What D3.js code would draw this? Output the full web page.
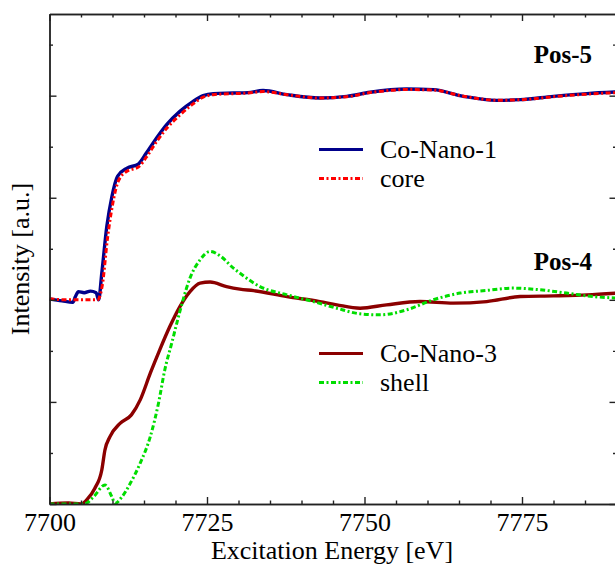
<!DOCTYPE html>
<html>
<head>
<meta charset="utf-8">
<script src="https://cdn.jsdelivr.net/npm/d3@7/dist/d3.min.js"></script>
<style>
  body { margin: 0; background: #fff; }
  text { font-family: "Liberation Serif", "Times New Roman", serif; fill: #000; }
</style>
</head>
<body>
<div id="chart"></div>
<script>
// Pos-5 : Co-Nano-1 measured vs core fit (offset by +2)
const nano1E = [7700, 7702, 7703.7, 7704.1, 7704.6, 7705.5, 7706.5, 7707.4, 7707.8, 7708.3, 7709.1, 7709.9, 7710.8, 7712.3, 7714.1, 7715.4, 7717.0, 7718.6, 7720.7, 7722.8, 7724.4, 7726.0, 7729.2, 7731.5, 7733.9, 7737.7, 7742.9, 7747.2, 7750.9, 7756.7, 7760.9, 7765.7, 7771.0, 7774.7, 7780.0, 7785.3, 7790];
const nano1V = [2.01, 1.99, 1.975, 2.03, 2.08, 2.07, 2.085, 2.07, 2.0, 2.26, 2.72, 3.01, 3.21, 3.29, 3.33, 3.44, 3.585, 3.716, 3.846, 3.944, 4.0, 4.02, 4.026, 4.03, 4.05, 4.01, 3.977, 3.993, 4.033, 4.065, 4.059, 3.993, 3.954, 3.961, 3.993, 4.02, 4.036];

const coreE = [7700, 7703, 7705, 7707.6, 7708.4, 7709.2, 7710.0, 7710.9, 7712.3, 7714.1, 7715.4, 7717.0, 7718.6, 7720.7, 7722.8, 7724.4, 7726.0, 7729.2, 7731.5, 7733.9, 7737.7, 7742.9, 7747.2, 7750.9, 7756.7, 7760.9, 7765.7, 7771.0, 7774.7, 7780.0, 7785.3, 7790];
const coreV = [2.01, 2.0, 2.0, 2.0, 2.15, 2.6, 2.93, 3.16, 3.26, 3.3, 3.4, 3.55, 3.68, 3.81, 3.92, 3.985, 4.01, 4.02, 4.025, 4.04, 4.01, 3.977, 3.99, 4.03, 4.06, 4.055, 3.995, 3.955, 3.96, 3.99, 4.015, 4.03];

// Pos-4 : Co-Nano-3 measured vs shell fit
const nano3E = [7700, 7703, 7705, 7705.9, 7707.2, 7708.3, 7708.8, 7709.6, 7711.2, 7713.0, 7714.4, 7716.0, 7717.5, 7719.1, 7720.7, 7722.3, 7723.9, 7725.5, 7728.1, 7730.2, 7732.4, 7737.7, 7742.9, 7745.6, 7749.3, 7753.5, 7758.8, 7764.1, 7769.4, 7774.7, 7780.0, 7785.3, 7790];
const nano3V = [0.0, 0.01, 0.0, 0.04, 0.154, 0.333, 0.529, 0.66, 0.79, 0.873, 1.02, 1.281, 1.51, 1.738, 1.934, 2.081, 2.164, 2.174, 2.13, 2.105, 2.09, 2.032, 1.983, 1.951, 1.918, 1.951, 1.983, 1.968, 1.983, 2.032, 2.039, 2.049, 2.066];

const shellE = [7700, 7705.5, 7707.0, 7708.8, 7709.9, 7710.4, 7711.5, 7712.8, 7714.4, 7716.0, 7717.3, 7718.3, 7719.4, 7720.2, 7721.2, 7722.3, 7723.9, 7725.5, 7727.1, 7729.2, 7730.2, 7733.4, 7737.7, 7741.9, 7745.6, 7749.3, 7752.5, 7756.7, 7760.9, 7765.2, 7769.4, 7773.6, 7777.9, 7782.1, 7786.3, 7790];
const shellV = [0, 0, 0.07, 0.186, 0.07, 0.007, 0.07, 0.2, 0.4, 0.66, 0.987, 1.314, 1.575, 1.77, 2.0, 2.213, 2.392, 2.474, 2.43, 2.31, 2.262, 2.13, 2.049, 1.983, 1.918, 1.863, 1.853, 1.902, 2.0, 2.066, 2.092, 2.115, 2.098, 2.066, 2.032, 2.017];

const xMajor = [7700, 7725, 7750, 7775];
const xMinor = [7705, 7710, 7715, 7720, 7730, 7735, 7740, 7745, 7755, 7760, 7765, 7770, 7780, 7785];
const yMajor = [0, 1, 2, 3, 4];
const yMinor = [0.5, 1.5, 2.5, 3.5, 4.5];

const width = 615, height = 567;
const margin = { left: 49.5, top: 14, right: 616.5, bottom: 504 };

const svg = d3.select('#chart').append('svg')
  .attr('width', width)
  .attr('height', height);

const x = d3.scaleLinear().domain([7700, 7790]).range([margin.left, margin.right]);
const y = d3.scaleLinear().domain([0, 4.8]).range([margin.bottom, margin.top]);

// series
const series = [
  { E: nano3E, V: nano3V, color: '#8b0000', dash: null, w: 3.4 },
  { E: shellE, V: shellV, color: '#00dd00', dash: '5,2.5,2,2.5', w: 3 },
  { E: nano1E, V: nano1V, color: '#00008b', dash: null, w: 3.4 },
  { E: coreE, V: coreV, color: '#ff0000', dash: '5,2.5,2,2.5', w: 3 }
];

const line = d3.line()
  .x(d => x(d[0]))
  .y(d => y(d[1]))
  .curve(d3.curveMonotoneX);

svg.append('clipPath').attr('id', 'clip')
  .append('rect')
  .attr('x', margin.left).attr('y', margin.top)
  .attr('width', margin.right - margin.left).attr('height', margin.bottom - margin.top);

const plot = svg.append('g').attr('clip-path', 'url(#clip)');
series.forEach(s => {
  plot.append('path')
    .datum(s.E.map((e, i) => [e, s.V[i]]))
    .attr('fill', 'none')
    .attr('stroke', s.color)
    .attr('stroke-width', s.w)
    .attr('stroke-dasharray', s.dash)
    .attr('d', line);
});

// axes / frame with inward ticks
function styleAxis(g) {
  g.selectAll('path, line').attr('stroke', '#222').attr('stroke-width', 1.4);
  g.selectAll('text').style('font-size', '26px').style('font-family', '"Liberation Serif", serif').attr('fill', '#000');
}

svg.append('g')
  .attr('transform', `translate(0,${margin.bottom})`)
  .call(d3.axisBottom(x).tickValues(xMajor).tickSize(-7).tickSizeOuter(0).tickPadding(9).tickFormat(d3.format('d')))
  .call(styleAxis);
svg.append('g')
  .attr('transform', `translate(0,${margin.bottom})`)
  .call(d3.axisBottom(x).tickValues(xMinor).tickSize(-3.5).tickSizeOuter(0).tickFormat(''))
  .call(styleAxis);
svg.append('g')
  .attr('transform', `translate(0,${margin.top})`)
  .call(d3.axisTop(x).tickValues(xMajor).tickSize(-7).tickSizeOuter(0).tickFormat(''))
  .call(styleAxis);
svg.append('g')
  .attr('transform', `translate(0,${margin.top})`)
  .call(d3.axisTop(x).tickValues(xMinor).tickSize(-3.5).tickSizeOuter(0).tickFormat(''))
  .call(styleAxis);

svg.append('g')
  .attr('transform', `translate(${margin.left},0)`)
  .call(d3.axisLeft(y).tickValues(yMajor).tickSize(-7).tickSizeOuter(0).tickFormat(''))
  .call(styleAxis);
svg.append('g')
  .attr('transform', `translate(${margin.left},0)`)
  .call(d3.axisLeft(y).tickValues(yMinor).tickSize(-3.5).tickSizeOuter(0).tickFormat(''))
  .call(styleAxis);
svg.append('g')
  .attr('transform', `translate(${margin.right},0)`)
  .call(d3.axisRight(y).tickValues(yMajor).tickSize(-7).tickSizeOuter(0).tickFormat(''))
  .call(styleAxis);
svg.append('g')
  .attr('transform', `translate(${margin.right},0)`)
  .call(d3.axisRight(y).tickValues(yMinor).tickSize(-3.5).tickSizeOuter(0).tickFormat(''))
  .call(styleAxis);

// axis titles
svg.append('text')
  .attr('x', 332).attr('y', 559)
  .attr('text-anchor', 'middle')
  .style('font-size', '26px')
  .text('Excitation Energy [eV]');

svg.append('text')
  .attr('transform', 'translate(29,259) rotate(-90)')
  .attr('text-anchor', 'middle')
  .style('font-size', '26px')
  .text('Intensity [a.u.]');

// panel labels
const labels = [
  { text: 'Pos-5', yv: 63 },
  { text: 'Pos-4', yv: 270 }
];
svg.selectAll('.pos')
  .data(labels)
  .enter().append('text')
  .attr('class', 'pos')
  .attr('x', 592).attr('y', d => d.yv)
  .attr('text-anchor', 'end')
  .style('font-size', '25px')
  .style('font-weight', 'bold')
  .text(d => d.text);

// legends
const legendItems = [
  { name: 'Co-Nano-1', color: '#00008b', dash: null, ly: 149.5 },
  { name: 'core', color: '#ff0000', dash: '5,2.5,2,2.5', ly: 178.5 },
  { name: 'Co-Nano-3', color: '#8b0000', dash: null, ly: 353.5 },
  { name: 'shell', color: '#00dd00', dash: '5,2.5,2,2.5', ly: 382.5 }
];
const leg = svg.selectAll('.leg')
  .data(legendItems)
  .enter().append('g')
  .attr('class', 'leg');
leg.append('line')
  .attr('x1', 319).attr('x2', 363)
  .attr('y1', d => d.ly).attr('y2', d => d.ly)
  .attr('stroke', d => d.color)
  .attr('stroke-width', 3)
  .attr('stroke-dasharray', d => d.dash);
leg.append('text')
  .attr('x', 380).attr('y', d => d.ly + 8)
  .style('font-size', '26px')
  .text(d => d.name);
</script>
</body>
</html>
